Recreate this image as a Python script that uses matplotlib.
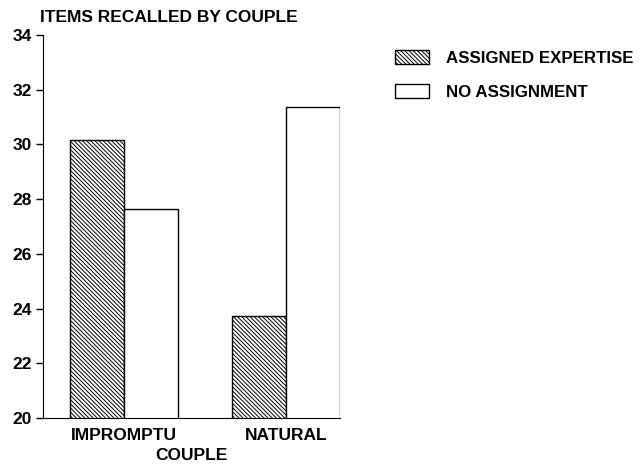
import matplotlib.pyplot as plt
import numpy as np

plt.rcParams['font.family'] = ['Liberation Sans', 'DejaVu Sans']
plt.rcParams['font.weight'] = 'bold'
plt.rcParams['hatch.linewidth'] = 0.7

couples = ['IMPROMPTU', 'NATURAL']
assigned = [30.15, 23.74]
no_assign = [27.65, 31.37]

fs = 12.5

fig = plt.figure(figsize=(6.43, 4.65), dpi=100)
ax = fig.add_axes([0.067, 0.101, 0.462, 0.824])

x = np.arange(len(couples)) * 3.0
ax.bar(x, assigned, width=1.0, color='white', edgecolor='black',
       hatch='\\\\\\\\\\\\\\\\', linewidth=1.0, label='ASSIGNED EXPERTISE')
ax.bar(x + 1, no_assign, width=1.0, color='white', edgecolor='black',
       linewidth=1.0, label='NO ASSIGNMENT')

ax.set_ylim(20, 34)
ax.set_xlim(-1, 4.5)
ax.set_yticks(range(20, 35, 2))
ax.set_xticks(x + 0.5)
ax.set_xticklabels(couples)
ax.tick_params(axis='x', length=0, labelsize=fs, pad=7)
ax.tick_params(axis='y', length=5, width=1, labelsize=fs, pad=3)
ax.spines['top'].set_visible(False)
ax.spines['right'].set_visible(False)
ax.set_xlabel('COUPLE', fontsize=fs, fontweight='bold', labelpad=4)
ax.set_title('ITEMS RECALLED BY COUPLE', fontsize=fs, fontweight='bold',
             loc='left', x=-0.01, pad=9)

fig.legend(loc='upper left', bbox_to_anchor=(0.614, 0.893), frameon=False,
           fontsize=12.2, handlelength=2.0, handleheight=0.9,
           labelspacing=1.1, handletextpad=1.0, borderpad=0, borderaxespad=0)

plt.savefig('out.png', dpi=100)
